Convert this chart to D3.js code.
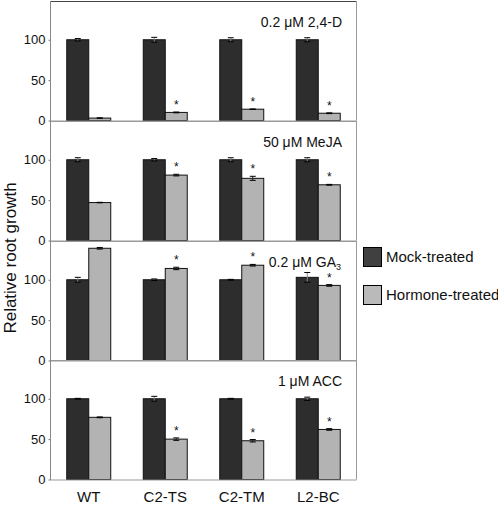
<!DOCTYPE html>
<html><head><meta charset="utf-8">
<script src="https://cdn.jsdelivr.net/npm/d3@7"></script>
<style>body{margin:0;background:#fff;} svg{display:block;font-family:Arial,"Liberation Sans",sans-serif;}</style>
</head><body>
<svg id="chart" width="498" height="508"></svg>
<script>
const genotypes = ["WT", "C2-TS", "C2-TM", "L2-BC"];
const treatments = ["Mock-treated", "Hormone-treated"];
const panelLabels = ["0.2 μM 2,4-D", "50 μM MeJA", "0.2 μM GA|3", "1 μM ACC"];
const mockValues = [[100,100,100,100],[100,100,100,100],[100,100,100,103],[100,100,100,100]];
const mockErrors = [[1.5,3,2.5,2.5],[2.5,1.5,2.5,2.5],[3,1,0.5,6],[0.5,3,0.5,2]];
const hormoneValues = [[3,10,14,9],[47,81,77,69],[139,114,118,93],[77,50,48,62]];
const hormoneErrors = [[0.3,0.5,0.3,0.5],[0.3,1,2.5,0.5],[1,1.5,1,1],[0.5,1.5,1.5,1]];
const significant = [[false,true,true,true],[false,true,true,true],[false,true,true,true],[false,true,true,true]];
const yTicks = [0, 50, 100];

const svg = d3.select("#chart");
const left = 50.5, right = 356.5;
const panelTops = [1, 121, 241, 360];
const panelH = 119.5;
const colors = ["#2d2d2d", "#b3b3b3"];

const x0 = d3.scaleBand().domain(genotypes).range([left, right]).paddingInner(0.425).paddingOuter(0.2125);
const x1 = d3.scaleBand().domain(treatments).range([0, x0.bandwidth()]);

panelLabels.forEach((lab, pi) => {
  const top = panelTops[pi], bottom = top + panelH;
  const y = d3.scaleLinear().domain([0, 148]).range([bottom, top]);
  const g = svg.append("g");
  g.append("line").attr("x1", left).attr("x2", right).attr("y1", top + 0.5).attr("y2", top + 0.5)
    .attr("stroke", pi === 0 ? "#444" : "#999").attr("stroke-width", 1);
  g.append("line").attr("x1", right).attr("x2", right).attr("y1", top).attr("y2", bottom)
    .attr("stroke", "#999").attr("stroke-width", 1);

  const rows = genotypes.map((gn, i) => [
    {gn, t: treatments[0], v: mockValues[pi][i], e: mockErrors[pi][i], star: false},
    {gn, t: treatments[1], v: hormoneValues[pi][i], e: hormoneErrors[pi][i], star: significant[pi][i]}
  ]).flat();

  g.selectAll("rect.bar").data(rows).join("rect")
    .attr("x", d => x0(d.gn) + x1(d.t))
    .attr("y", d => y(d.v))
    .attr("width", x1.bandwidth())
    .attr("height", d => y(0) - y(d.v))
    .attr("fill", d => d.t === treatments[0] ? colors[0] : colors[1])
    .attr("stroke", "#111").attr("stroke-width", 1);

  const eb = g.selectAll("g.eb").data(rows).join("g");
  eb.append("line")
    .attr("x1", d => x0(d.gn) + x1(d.t) + x1.bandwidth() / 2)
    .attr("x2", d => x0(d.gn) + x1(d.t) + x1.bandwidth() / 2)
    .attr("y1", d => y(d.v - d.e)).attr("y2", d => y(d.v + d.e))
    .attr("stroke", d => d.t === treatments[0] ? "#888" : "#222");
  ["lo", "hi"].forEach(k => {
    eb.append("line")
      .attr("x1", d => x0(d.gn) + x1(d.t) + x1.bandwidth() / 2 - 3)
      .attr("x2", d => x0(d.gn) + x1(d.t) + x1.bandwidth() / 2 + 3)
      .attr("y1", d => y(k === "lo" ? d.v - d.e : d.v + d.e))
      .attr("y2", d => y(k === "lo" ? d.v - d.e : d.v + d.e))
      .attr("stroke", "#000");
  });

  g.selectAll("text.star").data(rows.filter(d => d.star)).join("text")
    .attr("x", d => x0(d.gn) + x1(d.t) + x1.bandwidth() / 2)
    .attr("y", d => y(d.v + d.e) - 3)
    .attr("text-anchor", "middle").attr("font-size", 12).attr("fill", "#111")
    .text("*");

  g.append("line").attr("x1", left).attr("x2", right).attr("y1", bottom + 0.5).attr("y2", bottom + 0.5)
    .attr("stroke", "#999");

  const ax = g.append("g").attr("transform", `translate(${left},0)`)
    .call(d3.axisLeft(y).tickValues(yTicks).tickSize(2).tickPadding(3));
  ax.select(".domain").remove();
  ax.selectAll("line").attr("stroke", "#777");
  ax.selectAll("text").attr("font-size", 13).attr("fill", "#111").attr("font-family", "Arial, 'Liberation Sans', sans-serif");

  const parts = lab.split("|");
  const t = g.append("text").attr("x", parts.length > 1 ? 341 : 342).attr("y", top + 26)
    .attr("text-anchor", "end").attr("font-size", 14).attr("fill", "#111");
  t.append("tspan").text(parts[0]);
  if (parts.length > 1) t.append("tspan").attr("font-size", 9).attr("dy", 3).text(parts[1]);
});

svg.append("line").attr("x1", left).attr("x2", left).attr("y1", 1).attr("y2", panelTops[3] + panelH + 0.5)
  .attr("stroke", "#888");

svg.selectAll("text.xl").data(genotypes).join("text")
  .attr("x", d => x0(d) + x0.bandwidth() / 2)
  .attr("y", 502).attr("text-anchor", "middle").attr("font-size", 15).attr("fill", "#111")
  .text(d => d);

svg.append("text").attr("transform", "translate(16,258) rotate(-90)")
  .attr("text-anchor", "middle").attr("font-size", 17).attr("fill", "#111")
  .text("Relative root growth");

const lg = svg.append("g");
treatments.forEach((t, i) => {
  const yy = 247 + i * 38;
  lg.append("rect").attr("x", 363.5).attr("y", yy + 0.5).attr("width", 18).attr("height", 19)
    .attr("fill", i === 0 ? "#404040" : "#bababa").attr("stroke", "#000").attr("stroke-width", 1);
  lg.append("text").attr("x", 386).attr("y", yy + 15).attr("font-size", 15).attr("fill", "#111").text(t);
});
</script>
</body></html>
